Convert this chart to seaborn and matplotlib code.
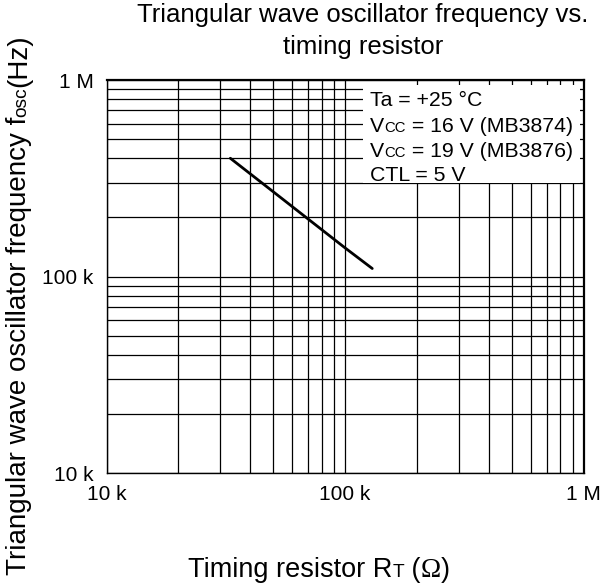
import numpy as np
import pandas as pd
import matplotlib
matplotlib.use("Agg")
import matplotlib.pyplot as plt
import seaborn as sns
from matplotlib.transforms import IdentityTransform
from matplotlib.patches import Rectangle
from matplotlib.ticker import LogLocator, NullFormatter

# values
timing_resistor = [33e3, 50e3, 100e3, 130e3]   # ohm
osc_frequency = [400e3, 270e3, 140e3, 110e3]   # Hz

tick_values = [1e4, 1e5, 1e6]
tick_labels = ["10 k", "100 k", "1 M"]

title_lines = ["Triangular wave oscillator frequency vs.", "timing resistor"]

conditions = [
    [("Ta = +25 °C", "main")],
    [("V", "main"), ("CC", "small"), (" = 16 V (MB3874)", "main")],
    [("V", "main"), ("CC", "small"), (" = 19 V (MB3876)", "main")],
    [("CTL = 5 V", "main")],
]

sns.set_style("white")
plt.rcParams["font.family"] = ["Liberation Sans", "DejaVu Sans"]
plt.rcParams["text.color"] = "black"

FS_TITLE = 18.5
FS_TICK = 15
FS_NOTE = 15.3
FS_NOTE_SMALL = 10.7
FS_XLABEL = 19.5
FS_YLABEL = 20
FS_LABEL_SMALL = 13.8
W, H = 601, 586

fig = plt.figure(figsize=(W / 100, H / 100), dpi=100)
ax = fig.add_axes([106.7 / W, (H - 473.3) / H, 476.8 / W, 393.3 / H])

df = pd.DataFrame({"rt": timing_resistor, "fosc": osc_frequency})
sns.lineplot(data=df, x="rt", y="fosc", color="black", linewidth=2.0, ax=ax, zorder=3)

ax.set_xscale("log")
ax.set_yscale("log")
ax.set_xlim(1e4, 1e6)
ax.set_ylim(1e4, 1e6)
for axis in (ax.xaxis, ax.yaxis):
    axis.set_minor_locator(LogLocator(base=10, subs=np.arange(2, 10)))
    axis.set_minor_formatter(NullFormatter())
ax.set_xticks(tick_values, labels=tick_labels)
ax.set_yticks(tick_values, labels=tick_labels)
ax.tick_params(axis="both", which="both", length=0, labelsize=FS_TICK, colors="black")
ax.tick_params(axis="x", pad=8.5)
ax.tick_params(axis="y", pad=9.5)
ax.set_xlabel("")
ax.set_ylabel("")

ax.set_axisbelow(True)
ax.grid(True, which="both", color="black", linewidth=0.9)
for side in ["left", "bottom"]:
    ax.spines[side].set_linewidth(1.0)
for side in ["top", "right"]:
    ax.spines[side].set_linewidth(1.6)
for sp in ax.spines.values():
    sp.set_color("black")
    sp.set_visible(True)

# white panel behind the conditions text
ax.add_patch(Rectangle((0.5375, 0.738), 0.455, 0.249, transform=ax.transAxes,
                       facecolor="white", edgecolor="none", zorder=1))

renderer = fig.canvas.get_renderer()


def rich_text(x, y, runs, vertical=False):
    # lay out text runs of different sizes one after another, in pixels
    for s, size, fam in runs:
        t = fig.text(x, y, s, fontsize=size, family=fam, transform=IdentityTransform(),
                     ha="left", va="baseline", rotation=90 if vertical else 0,
                     rotation_mode="anchor", color="black")
        bb = t.get_window_extent(renderer)
        if vertical:
            y += bb.height
        else:
            x += bb.width


sans = ["Liberation Sans", "DejaVu Sans"]
serif = ["Liberation Serif", "DejaVu Serif"]

baselines = [106, 132, 157, 181]
for row, base in zip(conditions, baselines):
    runs = [(s, FS_NOTE if kind == "main" else FS_NOTE_SMALL, sans) for s, kind in row]
    rich_text(370, H - base, runs)

# title, two centred lines
for line, base in zip(title_lines, [22, 54]):
    fig.text(363, H - base, line, fontsize=FS_TITLE, ha="center", va="baseline",
             transform=IdentityTransform(), color="black")

# axis labels
rich_text(188, H - 577, [("Timing resistor R", FS_XLABEL, sans), ("T", FS_LABEL_SMALL, sans),
                         (" (", FS_XLABEL, sans), ("Ω", FS_XLABEL, serif), (")", FS_XLABEL, sans)])
rich_text(26, H - 575, [("Triangular wave oscillator frequency f", FS_YLABEL, sans),
                        ("osc", FS_LABEL_SMALL, sans), ("(Hz)", FS_YLABEL, sans)], vertical=True)

fig.savefig("out.png", dpi=100, facecolor="white")
